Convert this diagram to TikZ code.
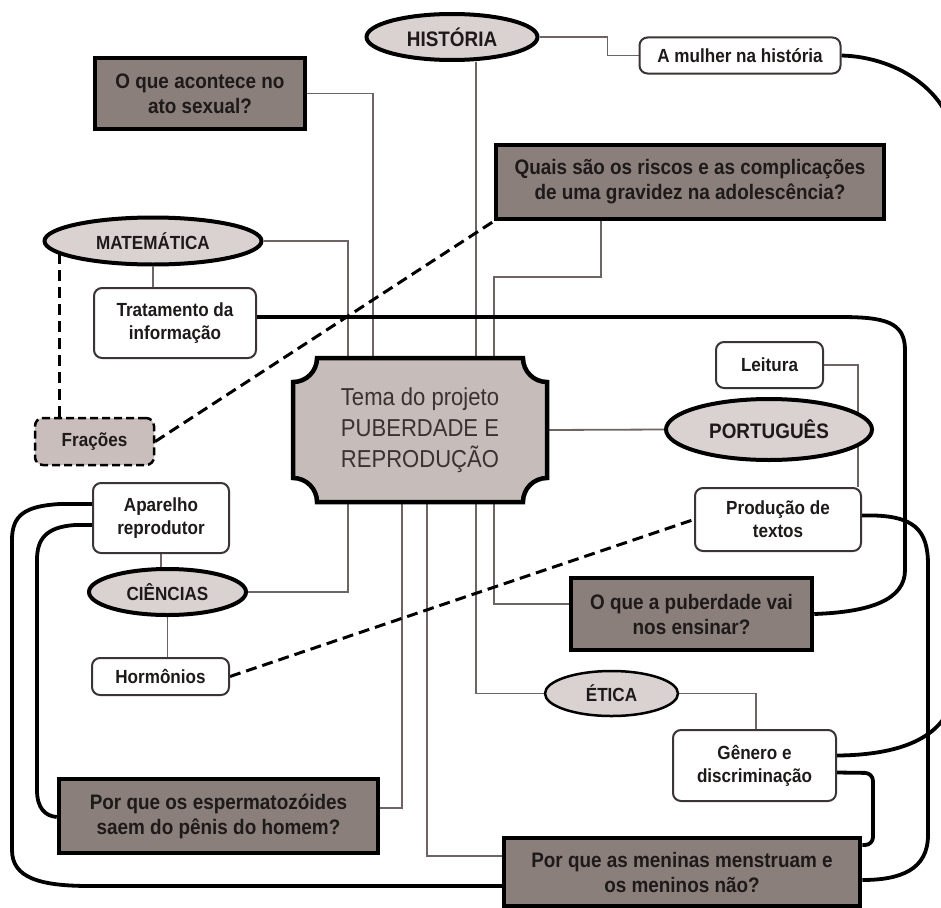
\documentclass[tikz,border=0pt]{standalone}
\usepackage{fontspec}
\setmainfont{Liberation Sans}[FakeStretch=0.9]
\usetikzlibrary{shapes.geometric,backgrounds}
\definecolor{darkfill}{RGB}{139,127,123}
\definecolor{ellfill}{RGB}{217,210,208}
\definecolor{temafill}{RGB}{198,188,186}
\definecolor{fracfill}{RGB}{201,190,188}
\definecolor{linegray}{RGB}{110,100,100}
\definecolor{bordgray}{RGB}{60,52,52}
\definecolor{txtdark}{RGB}{30,26,26}
\definecolor{txttema}{RGB}{58,50,50}
\tikzset{
  qbox/.style={draw=black, line width=4.5pt, fill=darkfill, align=center, inner sep=0pt,
    font=\fontsize{21}{25}\selectfont\bfseries, text=txtdark},
  wbox/.style={draw=bordgray, line width=2pt, rounded corners=8pt, fill=white, align=center,
    inner sep=0pt, font=\fontsize{19}{23}\selectfont\bfseries, text=txtdark},
  subj/.style={ellipse, draw=black, line width=4pt, fill=ellfill, inner sep=0pt,
    font=\fontsize{19}{23}\selectfont\bfseries, text=txtdark},
  link/.style={draw=linegray, line width=1.8pt},
  dlink/.style={draw=black, line width=3pt, dash pattern=on 11pt off 6pt},
  bigcurve/.style={draw=black, line width=3.8pt},
}
\begin{document}
\begin{tikzpicture}[x=1pt, y=-1pt]
\useasboundingbox (0,0) rectangle (941,907);

% ---- nodes ----
\node[subj, minimum width=171pt, minimum height=46pt, font=\fontsize{21}{25}\selectfont\bfseries] (hist) at (452,37) {HISTÓRIA};
\node[wbox, minimum width=201pt, minimum height=36pt] (mulher) at (740,55.5) {A mulher na história};
\node[qbox, minimum width=210pt, minimum height=71pt] (acontece) at (200,93.5) {O que acontece no\\ato sexual?};
\node[qbox, minimum width=388pt, minimum height=74pt] (quais) at (690,182) {Quais são os riscos e as complicações\\de uma gravidez na adolescência?};
\node[subj, minimum width=217pt, minimum height=47pt] (mat) at (153,241) {MATEMÁTICA};
\node[wbox, minimum width=162pt, minimum height=70pt] (trat) at (175,323) {Tratamento da\\informação};
\node[wbox, draw=black, line width=2.5pt, dash pattern=on 8pt off 4pt, fill=fracfill, minimum width=119pt, minimum height=47pt] (fracoes) at (94.5,441.5) {Frações};
\node[minimum width=254pt, minimum height=144pt, inner sep=0pt] (tema) at (420,430) {};
\node[wbox, minimum width=107pt, minimum height=46pt] (leitura) at (769.5,365) {Leitura};
\node[subj, minimum width=206pt, minimum height=61pt, font=\fontsize{21}{25}\selectfont\bfseries] (port) at (769,429.5) {PORTUGUÊS};
\node[wbox, minimum width=166pt, minimum height=63pt] (prod) at (778,519.5) {Produção de\\textos};
\node[qbox, minimum width=241pt, minimum height=72pt] (pub) at (691.5,614) {O que a puberdade vai\\nos ensinar?};
\node[wbox, minimum width=136pt, minimum height=70pt] (apar) at (161,518) {Aparelho\\reprodutor};
\node[subj, minimum width=157pt, minimum height=46pt] (cien) at (167.5,592) {CIÊNCIAS};
\node[wbox, minimum width=137pt, minimum height=37pt] (horm) at (160.5,676.5) {Hormônios};
\node[qbox, minimum width=319pt, minimum height=74pt] (esper) at (218.5,816) {Por que os espermatozóides\\saem do pênis do homem?};
\node[subj, line width=2.5pt, minimum width=133pt, minimum height=45pt] (etica) at (611.5,693.5) {ÉTICA};
\node[wbox, minimum width=163pt, minimum height=71pt] (genero) at (754.5,765.5) {Gênero e\\discriminação};
\node[qbox, minimum width=356pt, minimum height=68pt] (men) at (682,872) {Por que as meninas menstruam e\\os meninos não?};

% ---- central node shape ----
\draw[line width=4.5pt, fill=temafill]
  (317,358) -- (523,358) .. controls (523,371.3) and (533.7,382) .. (547,382)
  -- (547,478) .. controls (533.7,478) and (523,488.7) .. (523,502)
  -- (317,502) .. controls (317,488.7) and (306.3,478) .. (293,478)
  -- (293,382) .. controls (306.3,382) and (317,371.3) .. (317,358) -- cycle;
\node[align=center, text=txttema, font=\fontsize{24.5}{31}\selectfont] at (tema.center) {Tema do projeto\\PUBERDADE E\\REPRODUÇÃO};

% ---- connectors ----
\begin{scope}[on background layer]
  \draw[link] (hist.east) -- ++(68,0) |- (mulher.west);
  \draw[link] ([xshift=24pt]hist.south) -- ([xshift=24pt]hist.south |- tema.north);
  \draw[link] (acontece.east) -| ([xshift=-47pt]tema.north);
  \draw[link] (mat.east) -| ([xshift=-72pt]tema.north);
  \draw[link] ([xshift=-89pt]quais.south) -- ++(0,56) -| ([xshift=74pt]tema.north);
  \draw[link] (tema.east) -- (port.west);
  \draw[link] (leitura.east) -| ([xshift=80pt]prod.north);
  \draw[link] (mat.south) -- (mat.south |- trat.north);
  \draw[link] (apar.south) -- (apar.south |- cien.north);
  \draw[link] (cien.south) -- (cien.south |- horm.north);
  \draw[link] ([xshift=-72pt]tema.south) |- (cien.east);
  \draw[link] ([xshift=-18pt]tema.south) |- ([yshift=8pt]esper.east);
  \draw[link] ([xshift=7pt]tema.south) |- ([yshift=16pt]men.west);
  \draw[link] ([xshift=56pt]tema.south) |- (etica.west);
  \draw[link] ([xshift=74pt]tema.south) |- ([yshift=10pt]pub.west);
  \draw[link] (etica.east) -| ([xshift=1.5pt]genero.north);

  \draw[dlink] ([xshift=-35pt]fracoes.north) -- ([xshift=-35pt]fracoes.north |- mat.center);
  \draw[dlink] (fracoes.east) -- (quais.south west);
  \draw[dlink] (horm.east) -- (prod.west);

  \draw[bigcurve] (mulher.east) .. controls (900,57) and (955,95) .. (955,150)
     -- (955,680) .. controls (955,735) and (905,755) .. ([yshift=10pt]genero.east);
  \draw[bigcurve] ([yshift=6pt]trat.east) -- (840,317) .. controls (885,317) and (905,322) .. (905,350)
     -- (905,570) .. controls (905,600) and (870,612) .. (pub.east);
  \draw[bigcurve] ([yshift=4pt]prod.east) .. controls (915,514) and (928,530) .. (928,565)
     -- (928,835) .. controls (928,870) and (900,880) .. ([yshift=-8pt]men.east);
  \draw[bigcurve, rounded corners=8pt] ([yshift=-7pt]genero.east) -- (873,773) -- (873,845) -- ([yshift=27pt]men.east);
  \draw[bigcurve] ([yshift=14pt]apar.west) -- (60,504) .. controls (25,506) and (12,515) .. (12,540)
     -- (12,850) .. controls (12,878) and (40,886) .. (90,886) -- ([yshift=-14pt]men.west);
  \draw[bigcurve] ([yshift=-7pt]apar.west) -- (75,525) .. controls (45,527) and (37,540) .. (37,560)
     -- (37,790) .. controls (37,808) and (45,816) .. ([yshift=-1pt]esper.west);
\end{scope}
\end{tikzpicture}
\end{document}
